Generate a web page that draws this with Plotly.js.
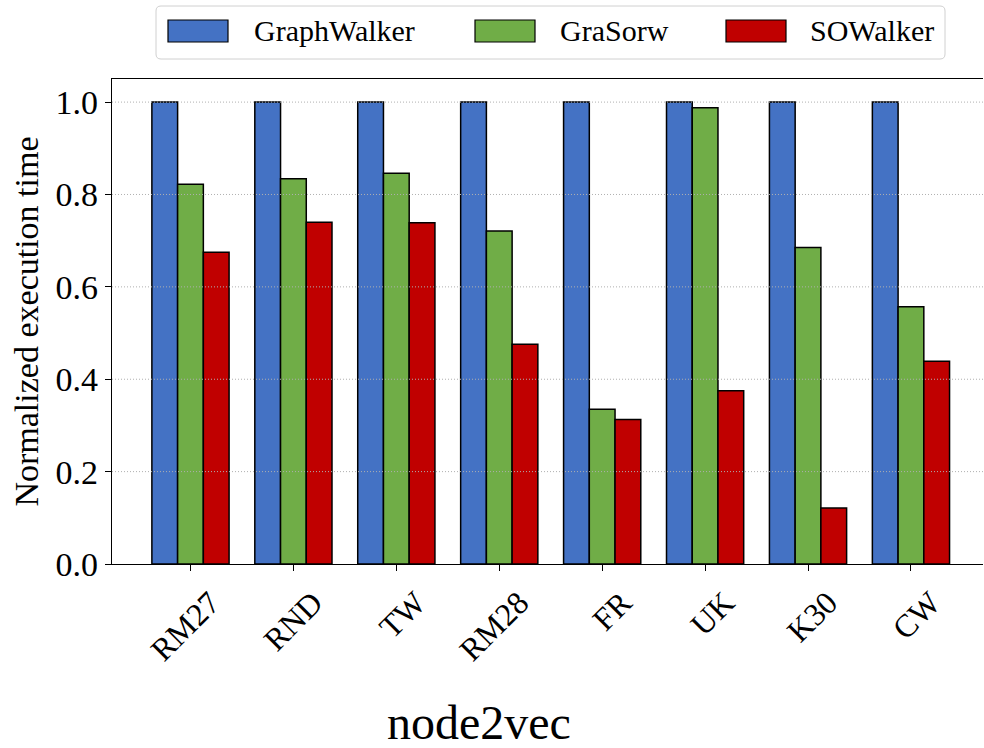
<!DOCTYPE html>
<html>
<head>
<meta charset="utf-8">
<script src="https://cdn.plot.ly/plotly-3.0.1.min.js"></script>
<style>html,body{margin:0;padding:0;background:#fff;}#chart{width:984px;height:748px;}</style>
</head>
<body>
<div id="chart"></div>
<script>
// ---- data ----
const categories = ["RM27", "RND", "TW", "RM28", "FR", "UK", "K30", "CW"];
const graphWalker = [1.0, 1.0, 1.0, 1.0, 1.0, 1.0, 1.0, 1.0];
const graSorw     = [0.822, 0.834, 0.846, 0.721, 0.335, 0.988, 0.685, 0.557];
const soWalker    = [0.675, 0.740, 0.739, 0.476, 0.313, 0.375, 0.121, 0.439];
const seriesNames = ["GraphWalker", "GraSorw", "SOWalker"];
const yTicks = [0.0, 0.2, 0.4, 0.6, 0.8, 1.0];
const chartTitle = "node2vec";
const yTitle = "Normalized execution time";

// ---- layout helpers ----
const W = 984, H = 748;
const M = {l: 112, r: 1, t: 79, b: 184};
const PW = W - M.l - M.r, PH = H - M.t - M.b;
const px = x => (x - M.l) / PW;
const py = y => (M.t + PH - y) / PH;
const colors = ["#4472C4", "#70AD47", "#C00000"];
const serif = "Liberation Serif";

const series = [graphWalker, graSorw, soWalker];
const traces = series.map((vals, i) => ({
  type: "bar",
  x: categories,
  y: vals,
  name: seriesNames[i],
  marker: {color: colors[i], line: {color: "#000", width: 1.5}},
  showlegend: false,
  hoverinfo: "x+y+name"
}));

const shapes = [];
// dotted grid lines drawn above bars (as in the reference)
yTicks.filter(v => v > 0).forEach(v => {
  shapes.push({type: "line", xref: "paper", yref: "y", x0: 0, x1: 1, y0: v, y1: v,
    line: {color: "#b0b0b0", width: 1, dash: "1px,2px"}, layer: "above"});
});

// custom legend frame (rounded)
function roundedRect(x0, y0, x1, y1, r) {
  const rx = r / PW, ry = r / PH;
  const X0 = px(x0), X1 = px(x1), Y0 = py(y0), Y1 = py(y1);
  return `M${X0 + rx},${Y0} L${X1 - rx},${Y0} Q${X1},${Y0} ${X1},${Y0 - ry} ` +
         `L${X1},${Y1 + ry} Q${X1},${Y1} ${X1 - rx},${Y1} L${X0 + rx},${Y1} ` +
         `Q${X0},${Y1} ${X0},${Y1 + ry} L${X0},${Y0 - ry} Q${X0},${Y0} ${X0 + rx},${Y0} Z`;
}
shapes.push({type: "path", xref: "paper", yref: "paper", path: roundedRect(156, 6, 945, 59, 5),
  line: {color: "#d0d0d0", width: 1}, fillcolor: "rgba(255,255,255,0.8)", layer: "above"});

const swatchX = [168, 475, 726];
const textX = [252, 558, 808];
const annotations = [];
seriesNames.forEach((n, i) => {
  shapes.push({type: "rect", xref: "paper", yref: "paper",
    x0: px(swatchX[i]), x1: px(swatchX[i] + 60), y0: py(42), y1: py(20),
    fillcolor: colors[i], line: {color: "#000", width: 1.2}, layer: "above"});
  annotations.push({xref: "paper", yref: "paper", x: px(textX[i]), y: py(31),
    xanchor: "left", yanchor: "middle", showarrow: false, text: n,
    font: {family: serif, size: 30, color: "#000"}});
});
annotations.push({xref: "paper", yref: "paper", x: px(479), y: py(722),
  xanchor: "center", yanchor: "middle", showarrow: false, text: chartTitle,
  font: {family: serif, size: 48, color: "#000"}});

const layout = {
  width: W, height: H,
  margin: M,
  paper_bgcolor: "#fff", plot_bgcolor: "#fff",
  barmode: "group", bargap: 0.25, bargroupgap: 0,
  font: {family: serif, color: "#000"},
  showlegend: false,
  xaxis: {
    type: "category",
    range: [-0.7625, 7.70],
    showline: true, linecolor: "#000", linewidth: 1.2, mirror: true,
    ticks: "outside", ticklen: 6, tickwidth: 1, tickcolor: "#000",
    tickangle: -45, ticklabelshift: 20,
    tickfont: {family: serif, size: 32, color: "#000"},
    showgrid: false, zeroline: false, fixedrange: true
  },
  yaxis: {
    range: [0, 1.05],
    tickvals: yTicks, tickformat: ".1f",
    showline: true, linecolor: "#000", linewidth: 1.2, mirror: false,
    ticks: "outside", ticklen: 6, tickwidth: 1, tickcolor: "#000",
    tickfont: {family: serif, size: 34, color: "#000"},
    showgrid: false, zeroline: false, fixedrange: true,
    title: {text: yTitle, font: {family: serif, size: 34, color: "#000"}, standoff: 6}
  },
  shapes: shapes,
  annotations: annotations
};

Plotly.newPlot("chart", traces, layout, {displayModeBar: false, staticPlot: true});
</script>
</body>
</html>
